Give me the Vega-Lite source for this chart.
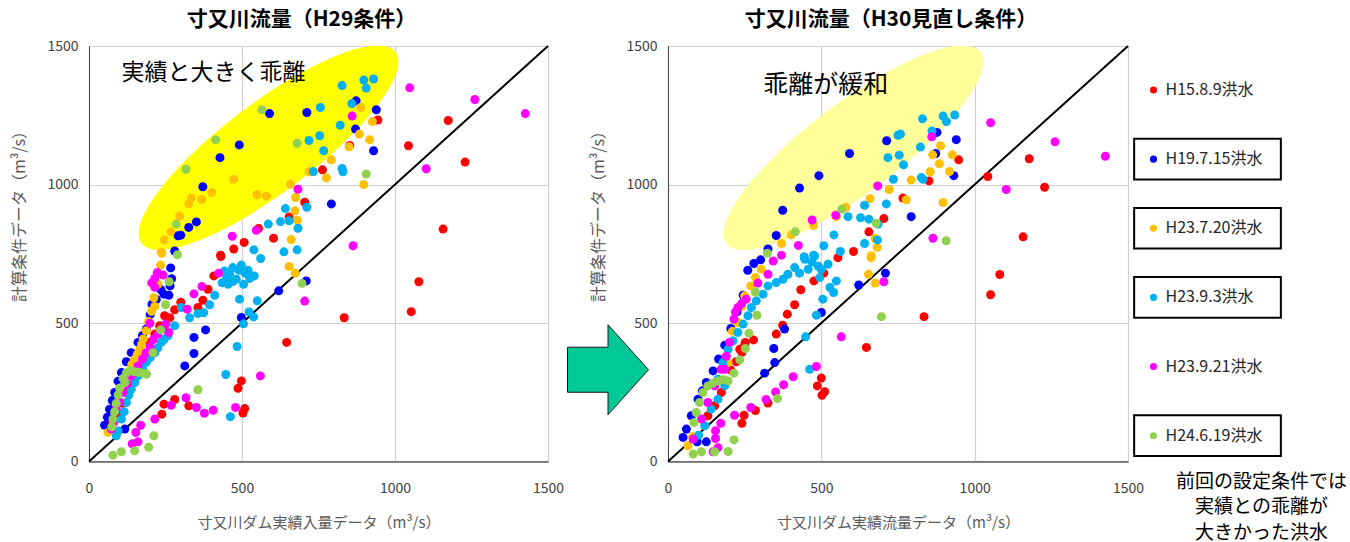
{
  "$schema": "https://vega.github.io/schema/vega-lite/v6.json",
  "padding": {"left": 11, "top": 8, "right": 5, "bottom": 0},
  "bounds": "flush",
  "spacing": 6,
  "config": {
    "font": "Noto Sans CJK JP",
    "view": {"stroke": "#404040", "strokeWidth": 1},
    "axis": {
      "labelFont": "Noto Sans CJK JP",
      "labelFontSize": 14,
      "labelColor": "#404040",
      "labelFlush": false,
      "labelOverlap": false,
      "ticks": false,
      "grid": true,
      "gridColor": "#D0D0D0",
      "gridWidth": 1.2,
      "domainColor": "#404040",
      "titleFont": "Noto Sans CJK JP",
      "titleFontWeight": "normal",
      "titleColor": "#595959",
      "titleFontSize": 15
    },
    "title": {"font": "Noto Sans CJK JP", "fontSize": 21, "fontWeight": "bold", "color": "#000000", "anchor": "middle", "offset": 9}
  },
  "datasets": {
    "h29": [
      {"s":"H15.8.9洪水","x":705,"y":936},{"s":"H15.8.9洪水","x":654,"y":883},{"s":"H15.8.9洪水","x":554,"y":841},{"s":"H15.8.9洪水","x":603,"y":806},{"s":"H15.8.9洪水","x":507,"y":791},{"s":"H15.8.9洪水","x":473,"y":767},{"s":"H15.8.9洪水","x":430,"y":745},
      {"s":"H15.8.9洪水","x":944,"y":1233},{"s":"H15.8.9洪水","x":1174,"y":1231},{"s":"H15.8.9洪水","x":852,"y":1141},{"s":"H15.8.9洪水","x":763,"y":1053},{"s":"H15.8.9洪水","x":1044,"y":1140},{"s":"H15.8.9洪水","x":1229,"y":1081},{"s":"H15.8.9洪水","x":1157,"y":839},
      {"s":"H15.8.9洪水","x":1078,"y":649},{"s":"H15.8.9洪水","x":1053,"y":541},{"s":"H15.8.9洪水","x":834,"y":519},
      {"s":"H15.8.9洪水","x":431,"y":740},{"s":"H15.8.9洪水","x":408,"y":670},{"s":"H15.8.9洪水","x":389,"y":622},{"s":"H15.8.9洪水","x":372,"y":582},{"s":"H15.8.9洪水","x":356,"y":556},{"s":"H15.8.9洪水","x":646,"y":430},{"s":"H15.8.9洪水","x":498,"y":291},{"s":"H15.8.9洪水","x":487,"y":264},{"s":"H15.8.9洪水","x":280,"y":224},{"s":"H15.8.9洪水","x":245,"y":207},{"s":"H15.8.9洪水","x":326,"y":201},{"s":"H15.8.9洪水","x":509,"y":191},{"s":"H15.8.9洪水","x":503,"y":175},{"s":"H15.8.9洪水","x":238,"y":171},
      {"s":"H15.8.9洪水","x":70,"y":140},{"s":"H15.8.9洪水","x":90,"y":170},{"s":"H15.8.9洪水","x":110,"y":210},{"s":"H15.8.9洪水","x":130,"y":260},{"s":"H15.8.9洪水","x":150,"y":300},{"s":"H15.8.9洪水","x":170,"y":350},{"s":"H15.8.9洪水","x":185,"y":390},{"s":"H15.8.9洪水","x":198,"y":430},{"s":"H15.8.9洪水","x":215,"y":460},{"s":"H15.8.9洪水","x":231,"y":490},{"s":"H15.8.9洪水","x":247,"y":526},{"s":"H15.8.9洪水","x":264,"y":519},{"s":"H15.8.9洪水","x":280,"y":548},{"s":"H15.8.9洪水","x":300,"y":575},
      {"s":"H19.7.15洪水","x":590,"y":1256},{"s":"H19.7.15洪水","x":712,"y":1260},{"s":"H19.7.15洪水","x":491,"y":1143},{"s":"H19.7.15洪水","x":428,"y":1097},{"s":"H19.7.15洪水","x":372,"y":992},{"s":"H19.7.15洪水","x":351,"y":865},{"s":"H19.7.15洪水","x":326,"y":845},{"s":"H19.7.15洪水","x":300,"y":817},{"s":"H19.7.15洪水","x":291,"y":815},{"s":"H19.7.15洪水","x":280,"y":760},
      {"s":"H19.7.15洪水","x":873,"y":1302},{"s":"H19.7.15洪水","x":939,"y":1270},{"s":"H19.7.15洪水","x":871,"y":1200},{"s":"H19.7.15洪水","x":930,"y":1122},{"s":"H19.7.15洪水","x":792,"y":930},
      {"s":"H19.7.15洪水","x":267,"y":699},{"s":"H19.7.15洪水","x":265,"y":634},{"s":"H19.7.15洪水","x":245,"y":604},{"s":"H19.7.15洪水","x":261,"y":600},{"s":"H19.7.15洪水","x":206,"y":568},{"s":"H19.7.15洪水","x":381,"y":475},{"s":"H19.7.15洪水","x":343,"y":448},{"s":"H19.7.15洪水","x":343,"y":390},{"s":"H19.7.15洪水","x":313,"y":345},{"s":"H19.7.15洪水","x":498,"y":520},{"s":"H19.7.15洪水","x":620,"y":616},{"s":"H19.7.15洪水","x":710,"y":652},{"s":"H19.7.15洪水","x":117,"y":117},
      {"s":"H19.7.15洪水","x":51,"y":131},{"s":"H19.7.15洪水","x":60,"y":160},{"s":"H19.7.15洪水","x":67,"y":189},{"s":"H19.7.15洪水","x":76,"y":220},{"s":"H19.7.15洪水","x":84,"y":249},{"s":"H19.7.15洪水","x":95,"y":290},{"s":"H19.7.15洪水","x":106,"y":321},{"s":"H19.7.15洪水","x":122,"y":360},{"s":"H19.7.15洪水","x":138,"y":393},{"s":"H19.7.15洪水","x":160,"y":430},{"s":"H19.7.15洪水","x":175,"y":455},{"s":"H19.7.15洪水","x":187,"y":478},{"s":"H19.7.15洪水","x":200,"y":530},{"s":"H19.7.15洪水","x":220,"y":585},{"s":"H19.7.15洪水","x":235,"y":620},{"s":"H19.7.15洪水","x":270,"y":660},
      {"s":"H23.7.20洪水","x":473,"y":1019},{"s":"H23.7.20洪水","x":401,"y":971},{"s":"H23.7.20洪水","x":368,"y":946},{"s":"H23.7.20洪水","x":334,"y":951},{"s":"H23.7.20洪水","x":326,"y":930},{"s":"H23.7.20洪水","x":296,"y":886},{"s":"H23.7.20洪水","x":267,"y":829},{"s":"H23.7.20洪水","x":246,"y":800},{"s":"H23.7.20洪水","x":236,"y":755},{"s":"H23.7.20洪水","x":549,"y":963},{"s":"H23.7.20洪水","x":580,"y":958},{"s":"H23.7.20洪水","x":658,"y":1001},{"s":"H23.7.20洪水","x":675,"y":953},{"s":"H23.7.20洪水","x":673,"y":905},{"s":"H23.7.20洪水","x":681,"y":871},{"s":"H23.7.20洪水","x":661,"y":801},{"s":"H23.7.20洪水","x":719,"y":1046},
      {"s":"H23.7.20洪水","x":888,"y":1278},{"s":"H23.7.20洪水","x":926,"y":1227},{"s":"H23.7.20洪水","x":884,"y":1182},{"s":"H23.7.20洪水","x":917,"y":1162},{"s":"H23.7.20洪水","x":850,"y":1136},{"s":"H23.7.20洪水","x":792,"y":1089},{"s":"H23.7.20洪水","x":776,"y":1024},{"s":"H23.7.20洪水","x":898,"y":1000},
      {"s":"H23.7.20洪水","x":238,"y":752},{"s":"H23.7.20洪水","x":234,"y":709},{"s":"H23.7.20洪水","x":212,"y":591},{"s":"H23.7.20洪水","x":204,"y":542},{"s":"H23.7.20洪水","x":654,"y":704},{"s":"H23.7.20洪水","x":674,"y":680},{"s":"H23.7.20洪水","x":62,"y":105},{"s":"H23.7.20洪水","x":75,"y":125},
      {"s":"H23.7.20洪水","x":140,"y":350},{"s":"H23.7.20洪水","x":149,"y":369},{"s":"H23.7.20洪水","x":158,"y":387},{"s":"H23.7.20洪水","x":166,"y":405},{"s":"H23.7.20洪水","x":172,"y":423},{"s":"H23.7.20洪水","x":177,"y":442},{"s":"H23.7.20洪水","x":187,"y":472},{"s":"H23.7.20洪水","x":195,"y":505},{"s":"H23.7.20洪水","x":215,"y":560},{"s":"H23.7.20洪水","x":225,"y":640},
      {"s":"H23.9.3洪水","x":719,"y":1159},{"s":"H23.9.3洪水","x":733,"y":1047},{"s":"H23.9.3洪水","x":712,"y":918},{"s":"H23.9.3洪水","x":642,"y":913},{"s":"H23.9.3洪水","x":626,"y":866},{"s":"H23.9.3洪水","x":654,"y":869},{"s":"H23.9.3洪水","x":683,"y":842},{"s":"H23.9.3洪水","x":586,"y":857},{"s":"H23.9.3洪水","x":539,"y":764},{"s":"H23.9.3洪水","x":637,"y":757},{"s":"H23.9.3洪水","x":680,"y":764},
      {"s":"H23.9.3洪水","x":827,"y":1357},{"s":"H23.9.3洪水","x":898,"y":1377},{"s":"H23.9.3洪水","x":930,"y":1381},{"s":"H23.9.3洪水","x":906,"y":1348},{"s":"H23.9.3洪水","x":756,"y":1278},{"s":"H23.9.3洪水","x":859,"y":1292},{"s":"H23.9.3洪水","x":821,"y":1214},{"s":"H23.9.3洪水","x":754,"y":1176},{"s":"H23.9.3洪水","x":767,"y":1122},{"s":"H23.9.3洪水","x":827,"y":1058},{"s":"H23.9.3洪水","x":830,"y":1046},
      {"s":"H23.9.3洪水","x":561,"y":733},{"s":"H23.9.3洪水","x":443,"y":688},{"s":"H23.9.3洪水","x":460,"y":680},{"s":"H23.9.3洪水","x":481,"y":658},{"s":"H23.9.3洪水","x":498,"y":709},{"s":"H23.9.3洪水","x":525,"y":661},{"s":"H23.9.3洪水","x":505,"y":640},{"s":"H23.9.3洪水","x":455,"y":640},{"s":"H23.9.3洪水","x":435,"y":645},{"s":"H23.9.3洪水","x":470,"y":700},{"s":"H23.9.3洪水","x":490,"y":690},{"s":"H23.9.3洪水","x":510,"y":680},{"s":"H23.9.3洪水","x":450,"y":665},{"s":"H23.9.3洪水","x":470,"y":650},{"s":"H23.9.3洪水","x":520,"y":690},{"s":"H23.9.3洪水","x":540,"y":670},
      {"s":"H23.9.3洪水","x":411,"y":600},{"s":"H23.9.3洪水","x":492,"y":586},{"s":"H23.9.3洪水","x":394,"y":566},{"s":"H23.9.3洪水","x":302,"y":556},{"s":"H23.9.3洪水","x":329,"y":519},{"s":"H23.9.3洪水","x":356,"y":534},{"s":"H23.9.3洪水","x":375,"y":537},{"s":"H23.9.3洪水","x":550,"y":580},{"s":"H23.9.3洪水","x":505,"y":497},{"s":"H23.9.3洪水","x":523,"y":540},{"s":"H23.9.3洪水","x":538,"y":522},{"s":"H23.9.3洪水","x":484,"y":415},{"s":"H23.9.3洪水","x":447,"y":314},{"s":"H23.9.3洪水","x":462,"y":162},
      {"s":"H23.9.3洪水","x":89,"y":93},{"s":"H23.9.3洪水","x":95,"y":110},{"s":"H23.9.3洪水","x":106,"y":153},{"s":"H23.9.3洪水","x":115,"y":180},{"s":"H23.9.3洪水","x":122,"y":213},{"s":"H23.9.3洪水","x":130,"y":240},{"s":"H23.9.3洪水","x":138,"y":261},{"s":"H23.9.3洪水","x":150,"y":285},{"s":"H23.9.3洪水","x":160,"y":309},{"s":"H23.9.3洪水","x":175,"y":335},{"s":"H23.9.3洪水","x":187,"y":357},{"s":"H23.9.3洪水","x":200,"y":375},{"s":"H23.9.3洪水","x":215,"y":393},{"s":"H23.9.3洪水","x":225,"y":410},{"s":"H23.9.3洪水","x":236,"y":430},{"s":"H23.9.3洪水","x":245,"y":440},{"s":"H23.9.3洪水","x":258,"y":454},{"s":"H23.9.3洪水","x":280,"y":490},
      {"s":"H23.9.21洪水","x":683,"y":983},{"s":"H23.9.21洪水","x":547,"y":835},{"s":"H23.9.21洪水","x":468,"y":813},
      {"s":"H23.9.21洪水","x":860,"y":1247},{"s":"H23.9.21洪水","x":1048,"y":1349},{"s":"H23.9.21洪水","x":1261,"y":1307},{"s":"H23.9.21洪水","x":1426,"y":1256},{"s":"H23.9.21洪水","x":1102,"y":1057},{"s":"H23.9.21洪水","x":863,"y":779},
      {"s":"H23.9.21洪水","x":424,"y":680},{"s":"H23.9.21洪水","x":223,"y":682},{"s":"H23.9.21洪水","x":242,"y":673},{"s":"H23.9.21洪水","x":215,"y":661},{"s":"H23.9.21洪水","x":215,"y":629},{"s":"H23.9.21洪水","x":199,"y":499},{"s":"H23.9.21洪水","x":251,"y":496},{"s":"H23.9.21洪水","x":261,"y":466},{"s":"H23.9.21洪水","x":369,"y":632},{"s":"H23.9.21洪水","x":343,"y":605},{"s":"H23.9.21洪水","x":321,"y":550},{"s":"H23.9.21洪水","x":705,"y":579},{"s":"H23.9.21洪水","x":560,"y":309},
      {"s":"H23.9.21洪水","x":317,"y":230},{"s":"H23.9.21洪水","x":269,"y":203},{"s":"H23.9.21洪水","x":351,"y":195},{"s":"H23.9.21洪水","x":377,"y":174},{"s":"H23.9.21洪水","x":406,"y":185},{"s":"H23.9.21洪水","x":479,"y":195},{"s":"H23.9.21洪水","x":215,"y":153},{"s":"H23.9.21洪水","x":169,"y":131},{"s":"H23.9.21洪水","x":153,"y":105},{"s":"H23.9.21洪水","x":160,"y":71},{"s":"H23.9.21洪水","x":141,"y":64},
      {"s":"H23.9.21洪水","x":73,"y":117},{"s":"H23.9.21洪水","x":80,"y":140},{"s":"H23.9.21洪水","x":89,"y":189},{"s":"H23.9.21洪水","x":100,"y":215},{"s":"H23.9.21洪水","x":111,"y":249},{"s":"H23.9.21洪水","x":125,"y":280},{"s":"H23.9.21洪水","x":138,"y":309},{"s":"H23.9.21洪水","x":160,"y":345},{"s":"H23.9.21洪水","x":175,"y":370},{"s":"H23.9.21洪水","x":187,"y":393},{"s":"H23.9.21洪水","x":200,"y":415},{"s":"H23.9.21洪水","x":210,"y":440},{"s":"H23.9.21洪水","x":225,"y":460},{"s":"H23.9.21洪水","x":240,"y":480},{"s":"H23.9.21洪水","x":205,"y":645},
      {"s":"H24.6.19洪水","x":565,"y":1270},{"s":"H24.6.19洪水","x":414,"y":1162},{"s":"H24.6.19洪水","x":317,"y":1055},{"s":"H24.6.19洪水","x":680,"y":1149},{"s":"H24.6.19洪水","x":285,"y":857},{"s":"H24.6.19洪水","x":289,"y":746},{"s":"H24.6.19洪水","x":906,"y":1038},
      {"s":"H24.6.19洪水","x":262,"y":649},{"s":"H24.6.19洪水","x":250,"y":566},{"s":"H24.6.19洪水","x":234,"y":475},{"s":"H24.6.19洪水","x":209,"y":393},{"s":"H24.6.19洪水","x":696,"y":643},{"s":"H24.6.19洪水","x":356,"y":259},{"s":"H24.6.19洪水","x":212,"y":93},{"s":"H24.6.19洪水","x":195,"y":51},{"s":"H24.6.19洪水","x":149,"y":39},{"s":"H24.6.19洪水","x":106,"y":35},{"s":"H24.6.19洪水","x":78,"y":23},
      {"s":"H24.6.19洪水","x":75,"y":125},{"s":"H24.6.19洪水","x":78,"y":153},{"s":"H24.6.19洪水","x":84,"y":180},{"s":"H24.6.19洪水","x":89,"y":210},{"s":"H24.6.19洪水","x":95,"y":240},{"s":"H24.6.19洪水","x":100,"y":265},{"s":"H24.6.19洪水","x":111,"y":300},{"s":"H24.6.19洪水","x":117,"y":285},{"s":"H24.6.19洪水","x":122,"y":320},{"s":"H24.6.19洪水","x":135,"y":328},{"s":"H24.6.19洪水","x":149,"y":324},{"s":"H24.6.19洪水","x":162,"y":322},{"s":"H24.6.19洪水","x":177,"y":319},{"s":"H24.6.19洪水","x":188,"y":316}
    ],
    "h30": [
      {"s":"H15.8.9洪水","x":704,"y":877},{"s":"H15.8.9洪水","x":655,"y":829},{"s":"H15.8.9洪水","x":605,"y":758},{"s":"H15.8.9洪水","x":554,"y":736},
      {"s":"H15.8.9洪水","x":948,"y":1089},{"s":"H15.8.9洪水","x":1178,"y":1093},{"s":"H15.8.9洪水","x":1043,"y":1029},{"s":"H15.8.9洪水","x":1228,"y":990},{"s":"H15.8.9洪水","x":851,"y":1013},{"s":"H15.8.9洪水","x":766,"y":951},{"s":"H15.8.9洪水","x":1158,"y":811},
      {"s":"H15.8.9洪水","x":1082,"y":675},{"s":"H15.8.9洪水","x":1052,"y":602},{"s":"H15.8.9洪水","x":835,"y":523},
      {"s":"H15.8.9洪水","x":476,"y":652},{"s":"H15.8.9洪水","x":508,"y":680},{"s":"H15.8.9洪水","x":433,"y":620},{"s":"H15.8.9洪水","x":413,"y":566},{"s":"H15.8.9洪水","x":389,"y":532},{"s":"H15.8.9洪水","x":374,"y":492},{"s":"H15.8.9洪水","x":353,"y":460},{"s":"H15.8.9洪水","x":279,"y":439},{"s":"H15.8.9洪水","x":252,"y":430},{"s":"H15.8.9洪水","x":241,"y":394},{"s":"H15.8.9洪水","x":647,"y":412},{"s":"H15.8.9洪水","x":500,"y":301},{"s":"H15.8.9洪水","x":487,"y":273},{"s":"H15.8.9洪水","x":511,"y":252},{"s":"H15.8.9洪水","x":502,"y":239},{"s":"H15.8.9洪水","x":326,"y":211},{"s":"H15.8.9洪水","x":285,"y":184},{"s":"H15.8.9洪水","x":248,"y":167},{"s":"H15.8.9洪水","x":241,"y":138},
      {"s":"H15.8.9洪水","x":130,"y":165},{"s":"H15.8.9洪水","x":152,"y":201},{"s":"H15.8.9洪水","x":174,"y":249},{"s":"H15.8.9洪水","x":190,"y":290},{"s":"H15.8.9洪水","x":205,"y":330},{"s":"H15.8.9洪水","x":222,"y":360},{"s":"H15.8.9洪水","x":234,"y":405},{"s":"H15.8.9洪水","x":250,"y":420},
      {"s":"H19.7.15洪水","x":713,"y":1158},{"s":"H19.7.15洪水","x":592,"y":1112},{"s":"H19.7.15洪水","x":492,"y":1032},{"s":"H19.7.15洪水","x":429,"y":987},{"s":"H19.7.15洪水","x":374,"y":907},{"s":"H19.7.15洪水","x":353,"y":816},{"s":"H19.7.15洪水","x":326,"y":767},
      {"s":"H19.7.15洪水","x":877,"y":1188},{"s":"H19.7.15洪水","x":940,"y":1162},{"s":"H19.7.15洪水","x":873,"y":1112},{"s":"H19.7.15洪水","x":932,"y":1032},{"s":"H19.7.15洪水","x":793,"y":884},
      {"s":"H19.7.15洪水","x":302,"y":728},{"s":"H19.7.15洪水","x":280,"y":715},{"s":"H19.7.15洪水","x":260,"y":690},{"s":"H19.7.15洪水","x":500,"y":538},{"s":"H19.7.15洪水","x":380,"y":478},{"s":"H19.7.15洪水","x":345,"y":408},{"s":"H19.7.15洪水","x":348,"y":357},{"s":"H19.7.15洪水","x":315,"y":319},{"s":"H19.7.15洪水","x":622,"y":637},{"s":"H19.7.15洪水","x":709,"y":680},{"s":"H19.7.15洪水","x":125,"y":71},{"s":"H19.7.15洪水","x":49,"y":87},{"s":"H19.7.15洪水","x":95,"y":71},
      {"s":"H19.7.15洪水","x":60,"y":117},{"s":"H19.7.15洪水","x":76,"y":165},{"s":"H19.7.15洪水","x":98,"y":225},{"s":"H19.7.15洪水","x":112,"y":255},{"s":"H19.7.15洪水","x":125,"y":285},{"s":"H19.7.15洪水","x":147,"y":327},{"s":"H19.7.15洪水","x":165,"y":370},{"s":"H19.7.15洪水","x":185,"y":420},{"s":"H19.7.15洪水","x":205,"y":480},{"s":"H19.7.15洪水","x":225,"y":540},{"s":"H19.7.15洪水","x":245,"y":600},
      {"s":"H23.7.20洪水","x":721,"y":982},{"s":"H23.7.20洪水","x":659,"y":949},{"s":"H23.7.20洪水","x":580,"y":918},{"s":"H23.7.20洪水","x":475,"y":852},{"s":"H23.7.20洪水","x":402,"y":818},{"s":"H23.7.20洪水","x":370,"y":787},{"s":"H23.7.20洪水","x":676,"y":805},{"s":"H23.7.20洪水","x":682,"y":773},{"s":"H23.7.20洪水","x":663,"y":743},{"s":"H23.7.20洪水","x":549,"y":884},
      {"s":"H23.7.20洪水","x":889,"y":1140},{"s":"H23.7.20洪水","x":927,"y":1107},{"s":"H23.7.20洪水","x":863,"y":1107},{"s":"H23.7.20洪水","x":885,"y":1075},{"s":"H23.7.20洪水","x":855,"y":1046},{"s":"H23.7.20洪水","x":918,"y":1047},{"s":"H23.7.20洪水","x":793,"y":1016},{"s":"H23.7.20洪水","x":777,"y":945},{"s":"H23.7.20洪水","x":897,"y":935},
      {"s":"H23.7.20洪水","x":304,"y":694},{"s":"H23.7.20洪水","x":662,"y":736},{"s":"H23.7.20洪水","x":654,"y":676},{"s":"H23.7.20洪水","x":676,"y":644},{"s":"H23.7.20洪水","x":285,"y":664},{"s":"H23.7.20洪水","x":270,"y":634},{"s":"H23.7.20洪水","x":250,"y":598},{"s":"H23.7.20洪水","x":240,"y":560},{"s":"H23.7.20洪水","x":228,"y":502},{"s":"H23.7.20洪水","x":210,"y":470},{"s":"H23.7.20洪水","x":196,"y":357},{"s":"H23.7.20洪水","x":65,"y":57},{"s":"H23.7.20洪水","x":80,"y":90},{"s":"H23.7.20洪水","x":160,"y":290},
      {"s":"H23.9.3洪水","x":717,"y":1097},{"s":"H23.9.3洪水","x":735,"y":1019},{"s":"H23.9.3洪水","x":712,"y":930},{"s":"H23.9.3洪水","x":641,"y":925},{"s":"H23.9.3洪水","x":587,"y":884},{"s":"H23.9.3洪水","x":628,"y":880},{"s":"H23.9.3洪水","x":655,"y":875},{"s":"H23.9.3洪水","x":685,"y":857},{"s":"H23.9.3洪水","x":541,"y":818},{"s":"H23.9.3洪水","x":641,"y":787},{"s":"H23.9.3洪水","x":683,"y":800},{"s":"H23.9.3洪水","x":508,"y":779},{"s":"H23.9.3洪水","x":562,"y":758},{"s":"H23.9.3洪水","x":475,"y":745},{"s":"H23.9.3洪水","x":444,"y":739},{"s":"H23.9.3洪水","x":750,"y":1178},
      {"s":"H23.9.3洪水","x":830,"y":1237},{"s":"H23.9.3洪水","x":897,"y":1247},{"s":"H23.9.3洪水","x":935,"y":1251},{"s":"H23.9.3洪水","x":908,"y":1227},{"s":"H23.9.3洪水","x":758,"y":1182},{"s":"H23.9.3洪水","x":861,"y":1193},{"s":"H23.9.3洪水","x":823,"y":1135},{"s":"H23.9.3洪水","x":754,"y":1106},{"s":"H23.9.3洪水","x":768,"y":1071},{"s":"H23.9.3洪水","x":826,"y":1025},{"s":"H23.9.3洪水","x":832,"y":1019},
      {"s":"H23.9.3洪水","x":446,"y":730},{"s":"H23.9.3洪水","x":478,"y":742},{"s":"H23.9.3洪水","x":457,"y":694},{"s":"H23.9.3洪水","x":500,"y":694},{"s":"H23.9.3洪水","x":522,"y":712},{"s":"H23.9.3洪水","x":470,"y":720},{"s":"H23.9.3洪水","x":490,"y":705},{"s":"H23.9.3洪水","x":429,"y":680},{"s":"H23.9.3洪水","x":495,"y":664},{"s":"H23.9.3洪水","x":549,"y":652},{"s":"H23.9.3洪水","x":528,"y":628},{"s":"H23.9.3洪水","x":540,"y":610},{"s":"H23.9.3洪水","x":505,"y":586},{"s":"H23.9.3洪水","x":484,"y":528},
      {"s":"H23.9.3洪水","x":413,"y":700},{"s":"H23.9.3洪水","x":391,"y":676},{"s":"H23.9.3洪水","x":375,"y":658},{"s":"H23.9.3洪水","x":353,"y":646},{"s":"H23.9.3洪水","x":326,"y":634},{"s":"H23.9.3洪水","x":310,"y":604},{"s":"H23.9.3洪水","x":288,"y":580},{"s":"H23.9.3洪水","x":272,"y":556},{"s":"H23.9.3洪水","x":261,"y":526},{"s":"H23.9.3洪水","x":245,"y":496},{"s":"H23.9.3洪水","x":228,"y":466},{"s":"H23.9.3洪水","x":212,"y":436},{"s":"H23.9.3洪水","x":196,"y":405},{"s":"H23.9.3洪水","x":179,"y":357},{"s":"H23.9.3洪水","x":163,"y":297},{"s":"H23.9.3洪水","x":449,"y":450},{"s":"H23.9.3洪水","x":462,"y":333},{"s":"H23.9.3洪水","x":185,"y":273},{"s":"H23.9.3洪水","x":163,"y":225},{"s":"H23.9.3洪水","x":141,"y":189},{"s":"H23.9.3洪水","x":120,"y":129},{"s":"H23.9.3洪水","x":100,"y":95},
      {"s":"H23.9.21洪水","x":684,"y":995},{"s":"H23.9.21洪水","x":470,"y":872},{"s":"H23.9.21洪水","x":547,"y":889},{"s":"H23.9.21洪水","x":425,"y":780},{"s":"H23.9.21洪水","x":370,"y":745},
      {"s":"H23.9.21洪水","x":860,"y":1172},{"s":"H23.9.21洪水","x":1052,"y":1223},{"s":"H23.9.21洪水","x":1262,"y":1154},{"s":"H23.9.21洪水","x":1426,"y":1102},{"s":"H23.9.21洪水","x":1103,"y":982},{"s":"H23.9.21洪水","x":864,"y":806},
      {"s":"H23.9.21洪水","x":343,"y":724},{"s":"H23.9.21洪水","x":704,"y":649},{"s":"H23.9.21洪水","x":293,"y":644},{"s":"H23.9.21洪水","x":326,"y":676},{"s":"H23.9.21洪水","x":255,"y":586},{"s":"H23.9.21洪水","x":240,"y":570},{"s":"H23.9.21洪水","x":228,"y":556},{"s":"H23.9.21洪水","x":220,"y":540},{"s":"H23.9.21洪水","x":215,"y":514},{"s":"H23.9.21洪水","x":201,"y":430},{"s":"H23.9.21洪水","x":185,"y":333},{"s":"H23.9.21洪水","x":565,"y":450},{"s":"H23.9.21洪水","x":484,"y":343},
      {"s":"H23.9.21洪水","x":408,"y":306},{"s":"H23.9.21洪水","x":377,"y":277},{"s":"H23.9.21洪水","x":351,"y":251},{"s":"H23.9.21洪水","x":320,"y":224},{"s":"H23.9.21洪水","x":270,"y":195},{"s":"H23.9.21洪水","x":217,"y":167},{"s":"H23.9.21洪水","x":172,"y":138},{"s":"H23.9.21洪水","x":155,"y":111},{"s":"H23.9.21洪水","x":155,"y":83},{"s":"H23.9.21洪水","x":163,"y":50},{"s":"H23.9.21洪水","x":147,"y":35},
      {"s":"H23.9.21洪水","x":174,"y":333},{"s":"H23.9.21洪水","x":152,"y":273},{"s":"H23.9.21洪水","x":130,"y":213},{"s":"H23.9.21洪水","x":109,"y":153},{"s":"H23.9.21洪水","x":82,"y":81},{"s":"H23.9.21洪水","x":190,"y":380},
      {"s":"H24.6.19洪水","x":567,"y":911},{"s":"H24.6.19洪水","x":415,"y":829},{"s":"H24.6.19洪水","x":679,"y":860},{"s":"H24.6.19洪水","x":324,"y":752},{"s":"H24.6.19洪水","x":907,"y":797},
      {"s":"H24.6.19洪水","x":696,"y":523},{"s":"H24.6.19洪水","x":285,"y":612},{"s":"H24.6.19洪水","x":290,"y":528},{"s":"H24.6.19洪水","x":264,"y":463},{"s":"H24.6.19洪水","x":252,"y":408},{"s":"H24.6.19洪水","x":234,"y":367},{"s":"H24.6.19洪水","x":215,"y":319},{"s":"H24.6.19洪水","x":196,"y":291},{"s":"H24.6.19洪水","x":180,"y":295},{"s":"H24.6.19洪水","x":163,"y":291},{"s":"H24.6.19洪水","x":145,"y":282},{"s":"H24.6.19洪水","x":130,"y":273},{"s":"H24.6.19洪水","x":114,"y":249},{"s":"H24.6.19洪水","x":103,"y":213},{"s":"H24.6.19洪水","x":92,"y":177},{"s":"H24.6.19洪水","x":85,"y":141},
      {"s":"H24.6.19洪水","x":357,"y":227},{"s":"H24.6.19洪水","x":215,"y":78},{"s":"H24.6.19洪水","x":196,"y":36},{"s":"H24.6.19洪水","x":152,"y":35},{"s":"H24.6.19洪水","x":109,"y":35},{"s":"H24.6.19洪水","x":82,"y":27}
    ],
    "legend": [
      {"s":"H15.8.9洪水","boxed":false},
      {"s":"H19.7.15洪水","boxed":true},
      {"s":"H23.7.20洪水","boxed":true},
      {"s":"H23.9.3洪水","boxed":true},
      {"s":"H23.9.21洪水","boxed":false},
      {"s":"H24.6.19洪水","boxed":true}
    ]
  },
  "hconcat": [
    {
      "width": 459,
      "height": 415.5,
      "title": {"text": "寸又川流量（H29条件）", "dx": -17},
      "layer": [
        {
          "data": {"values": [{}]},
          "mark": {"type": "point", "shape": "M -1 0 A 1 0.283 0 1 1 1 0 A 1 0.283 0 1 1 -1 0 Z", "size": 101124, "angle": 323, "filled": true, "fill": "#FFFF00", "strokeWidth": 0, "opacity": 1, "clip": true},
          "encoding": {"x": {"datum": 587, "type": "quantitative", "scale": {"domain": [0, 1500], "nice": false}}, "y": {"datum": 1133, "type": "quantitative", "scale": {"domain": [0, 1500], "nice": false}}}
        },
        {
          "data": {"values": [{}]},
          "mark": {"type": "rule", "color": "#000000", "strokeWidth": 2},
          "encoding": {"x": {"datum": 0, "type": "quantitative", "scale": {"domain": [0, 1500], "nice": false}}, "y": {"datum": 0, "type": "quantitative", "scale": {"domain": [0, 1500], "nice": false}}, "x2": {"datum": 1500}, "y2": {"datum": 1500}}
        },
        {
          "data": {"name": "h29"},
          "mark": {"type": "point", "filled": true, "size": 81, "opacity": 1},
          "encoding": {
            "x": {"field": "x", "type": "quantitative", "scale": {"domain": [0, 1500], "nice": false}, "axis": {"values": [0, 500, 1000, 1500], "format": "d", "grid": true, "gridColor": "#D0D0D0", "labelPadding": 19.5, "title": "寸又川ダム実績入量データ（m³/s）", "titlePadding": 20}},
            "y": {"field": "y", "type": "quantitative", "scale": {"domain": [0, 1500], "nice": false}, "axis": {"values": [0, 500, 1000, 1500], "format": "d", "grid": true, "gridColor": "#D0D0D0", "labelPadding": 11, "title": "計算条件データ（m³/s）", "titleFontSize": 16, "titlePadding": 19, "titleY": 166}},
            "color": {"field": "s", "type": "nominal", "scale": {"domain": ["H15.8.9洪水","H19.7.15洪水","H23.7.20洪水","H23.9.3洪水","H23.9.21洪水","H24.6.19洪水"], "range": ["#FF0000","#0000FF","#FFC000","#00B0F0","#FF00FF","#92D050"]}, "legend": null}
          }
        },
        {
          "data": {"values": [{}]},
          "mark": {"type": "text", "text": "実績と大きく乖離", "fontSize": 23, "color": "#000000"},
          "encoding": {"x": {"datum": 407, "type": "quantitative", "scale": {"domain": [0, 1500], "nice": false}}, "y": {"datum": 1401, "type": "quantitative", "scale": {"domain": [0, 1500], "nice": false}}}
        }
      ]
    },
    {
      "width": 108,
      "height": 415.5,
      "view": {"stroke": null},
      "data": {"values": [{}]},
      "mark": {"type": "point", "shape": "M -0.9 -0.5 L 0 -0.5 L 0 -1 L 0.9 0 L 0 1 L 0 0.5 L -0.9 0.5 Z", "size": 8100, "filled": true, "fill": "#00C896", "stroke": "#1A1A1A", "strokeWidth": 1, "opacity": 1, "yOffset": 116}
    },
    {
      "width": 460,
      "height": 415.5,
      "title": {"text": "寸又川流量（H30見直し条件）", "dx": -7},
      "layer": [
        {
          "data": {"values": [{}]},
          "mark": {"type": "point", "shape": "M -1 0 A 1 0.283 0 1 1 1 0 A 1 0.283 0 1 1 -1 0 Z", "size": 101124, "angle": 323, "filled": true, "fill": "#FFFF99", "strokeWidth": 0, "opacity": 1, "clip": true},
          "encoding": {"x": {"datum": 605, "type": "quantitative", "scale": {"domain": [0, 1500], "nice": false}}, "y": {"datum": 1133, "type": "quantitative", "scale": {"domain": [0, 1500], "nice": false}}}
        },
        {
          "data": {"values": [{}]},
          "mark": {"type": "rule", "color": "#000000", "strokeWidth": 2},
          "encoding": {"x": {"datum": 0, "type": "quantitative", "scale": {"domain": [0, 1500], "nice": false}}, "y": {"datum": 0, "type": "quantitative", "scale": {"domain": [0, 1500], "nice": false}}, "x2": {"datum": 1500}, "y2": {"datum": 1500}}
        },
        {
          "data": {"name": "h30"},
          "mark": {"type": "point", "filled": true, "size": 81, "opacity": 1},
          "encoding": {
            "x": {"field": "x", "type": "quantitative", "scale": {"domain": [0, 1500], "nice": false}, "axis": {"values": [0, 500, 1000, 1500], "format": "d", "grid": true, "gridColor": "#D0D0D0", "labelPadding": 19.5, "title": "寸又川ダム実績流量データ（m³/s）", "titlePadding": 20}},
            "y": {"field": "y", "type": "quantitative", "scale": {"domain": [0, 1500], "nice": false}, "axis": {"values": [0, 500, 1000, 1500], "format": "d", "grid": true, "gridColor": "#D0D0D0", "labelPadding": 11, "title": "計算条件データ（m³/s）", "titleFontSize": 16, "titlePadding": 19, "titleY": 166}},
            "color": {"field": "s", "type": "nominal", "scale": {"domain": ["H15.8.9洪水","H19.7.15洪水","H23.7.20洪水","H23.9.3洪水","H23.9.21洪水","H24.6.19洪水"], "range": ["#FF0000","#0000FF","#FFC000","#00B0F0","#FF00FF","#92D050"]}, "legend": null}
          }
        },
        {
          "data": {"values": [{}]},
          "mark": {"type": "text", "text": "乖離が緩和", "fontSize": 25, "color": "#000000"},
          "encoding": {"x": {"datum": 514, "type": "quantitative", "scale": {"domain": [0, 1500], "nice": false}}, "y": {"datum": 1359, "type": "quantitative", "scale": {"domain": [0, 1500], "nice": false}}}
        }
      ]
    },
    {
      "width": 147,
      "height": 415.5,
      "view": {"stroke": null},
      "data": {"name": "legend"},
      "title": {"text": ["前回の設定条件では", "実績との乖離が", "大きかった洪水"], "orient": "bottom", "dx": 54, "fontSize": 19, "fontWeight": "normal", "lineHeight": 25.5, "offset": 11},
      "encoding": {
        "y": {"field": "s", "type": "nominal", "sort": null, "scale": {"type": "point", "domain": ["H15.8.9洪水","H19.7.15洪水","H23.7.20洪水","H23.9.3洪水","H23.9.21洪水","H24.6.19洪水"], "padding": 0.505, "align": 0.63}, "axis": null}
      },
      "layer": [
        {
          "transform": [{"filter": "datum.boxed"}],
          "mark": {"type": "point", "shape": "M -1 -0.277 L 1 -0.277 L 1 0.277 L -1 0.277 Z", "size": 21521, "filled": false, "stroke": "#000000", "strokeWidth": 2, "opacity": 1}
        },
        {
          "mark": {"type": "point", "filled": true, "size": 50, "xOffset": -54, "opacity": 1},
          "encoding": {
            "color": {"field": "s", "type": "nominal", "scale": {"domain": ["H15.8.9洪水","H19.7.15洪水","H23.7.20洪水","H23.9.3洪水","H23.9.21洪水","H24.6.19洪水"], "range": ["#FF0000","#0000FF","#FFC000","#00B0F0","#FF00FF","#92D050"]}, "legend": null}
          }
        },
        {
          "mark": {"type": "text", "align": "left", "xOffset": -42, "fontSize": 16, "color": "#262626"},
          "encoding": {"text": {"field": "s"}}
        }
      ]
    }
  ]
}
